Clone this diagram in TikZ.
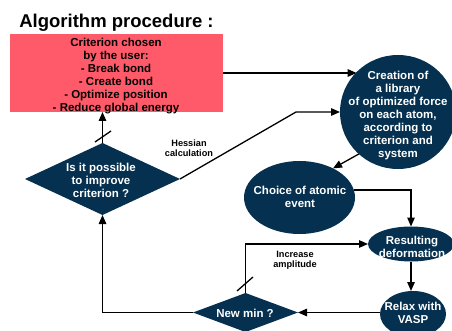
\documentclass[tikz,border=0pt]{standalone}
\usepackage{fontspec}
\setmainfont{Liberation Sans}
\usetikzlibrary{shapes.geometric,arrows.meta}
\definecolor{navy}{HTML}{05304F}
\definecolor{boxred}{HTML}{FF5A69}
\begin{document}
\begin{tikzpicture}[x=1pt,y=-1pt,
  >={Triangle[length=9pt,width=7.5pt]},
  conn/.style={line width=1.3pt,draw=black},
  shp/.style={fill=navy,draw=none,inner sep=0pt,outer sep=0pt},
  wtxt/.style={text=white,font=\bfseries\fontsize{11.5}{13}\selectfont,align=center,inner sep=0pt},
  btxt/.style={text=black,font=\bfseries\fontsize{11.5}{13}\selectfont,align=center,inner sep=0pt},
  small/.style={text=black,font=\bfseries\fontsize{9.2}{10}\selectfont,align=center,inner sep=0pt}]
\useasboundingbox (0,0) rectangle (452,331);
\clip (0,0) rectangle (452,331);
\fill[white] (0,0) rectangle (452,331);

\node[anchor=base,inner sep=0pt,font=\bfseries\fontsize{18.5}{22}\selectfont] (title) at (116.5,28) {Algorithm procedure :};

\node[fill=boxred,draw=none,minimum width=213,minimum height=78,inner sep=0pt,outer sep=0pt,anchor=north west] (crit) at (10,34) {};
\node[btxt] (critT) at (116,76) {Criterion chosen\\by the user:\\- Break bond\\- Create bond\\- Optimize position\\- Reduce global energy};

\node[shp,ellipse,minimum width=116,minimum height=114] (cre) at (398,112) {};
\node[wtxt] (creT) at (398,116) {Creation of\\a library\\of optimized force\\on each atom,\\according to\\criterion and\\system};

\node[shp,ellipse,minimum width=111,minimum height=73] (cho) at (299.5,197.5) {};
\node[wtxt] (choT) at (300,197) {Choice of atomic\\event};

\node[shp,ellipse,minimum width=86,minimum height=35] (res) at (411,244) {};
\node[wtxt] (resT) at (412,247) {Resulting\\deformation};

\node[shp,ellipse,minimum width=66,minimum height=46] (rel) at (413,314) {};
\node[wtxt] (relT) at (413,313) {Relax with\\VASP};

\node[shp,diamond,minimum width=155,minimum height=72] (imp) at (102.5,179) {};
\node[wtxt] (impT) at (101,180.5) {Is it possible\\to improve\\criterion ?};

\node[shp,diamond,minimum width=105,minimum height=39] (nm) at (245.5,312.5) {};
\node[wtxt] (nmT) at (245,313) {New min ?};

\node[small] (hes) at (189,148) {Hessian\\calculation};
\node[small] (inc) at (295,260) {Increase\\amplitude};

% connectors
\draw[conn,->] (crit.east) -- (crit.east -| cre.136);
\draw[conn,->] (imp.east) -- ([xshift=-44pt]cre.west) -- (cre.west);
\draw[conn,->] (imp.north) -- (crit.south -| imp.north);
\draw[conn] ([shift={(-7.5,-1)}]imp.north) -- ([shift={(8.5,-12)}]imp.north);
\draw[conn,->] (nm.west) -| (imp.south);
\draw[conn,->] (cre.-133) -- (cho.41);
\draw[conn,->] (cho.8) -| (res.north);
\draw[conn,->] (res.south) -- (res.south |- rel.north);
\draw[conn,->] (nm.east -| rel.west) -- (nm.east);
\draw[conn,->] (nm.north) |- (res.west);
\draw[conn] ([shift={(-8.5,-2)}]nm.north) -- ([shift={(7.5,-16)}]nm.north);
\end{tikzpicture}
\end{document}
